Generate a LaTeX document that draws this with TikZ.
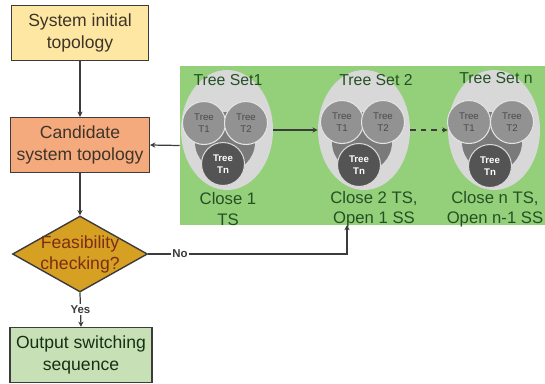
\documentclass[tikz,border=0pt]{standalone}
\usepackage{fontspec}
\setmainfont{Liberation Sans}
\usetikzlibrary{shapes.geometric,arrows.meta}
\definecolor{startyellow}{RGB}{253,231,163}
\definecolor{candsalmon}{RGB}{245,170,126}
\definecolor{checkgold}{RGB}{214,160,34}
\definecolor{checktext}{RGB}{125,45,20}
\definecolor{outgreen}{RGB}{200,224,182}
\definecolor{panelgreen}{RGB}{148,208,122}
\definecolor{setgray}{RGB}{216,216,216}
\definecolor{treegray}{RGB}{146,146,146}
\definecolor{blobgray}{RGB}{122,122,122}
\definecolor{tngray}{RGB}{84,84,84}
\definecolor{settext}{RGB}{36,80,36}
\definecolor{boxtext}{RGB}{62,52,40}
\definecolor{edgegray}{RGB}{60,60,60}

\begin{document}
\begin{tikzpicture}[x=0.02cm,y=-0.02cm,
  flowbox/.style={rectangle, draw=edgegray, line width=0.8pt, minimum width=2.74cm, minimum height=1.1cm, align=center, text=boxtext, font=\fontsize{10}{12.5}\selectfont},
  conn/.style={draw=edgegray, line width=0.7pt, -{Stealth[length=3pt,width=3pt]}},
  treeset/.style={ellipse, fill=setgray, minimum width=1.84cm, minimum height=2.4cm, inner sep=0pt},
  treecirc/.style={circle, fill=treegray, draw=setgray!70!white, line width=0.6pt, minimum size=0.86cm, inner sep=0pt, align=center, text=blobgray!60!black, font=\fontsize{5.5}{6.5}\selectfont},
  tncirc/.style={treecirc, fill=tngray, draw=setgray, text=white, font=\bfseries\fontsize{5.5}{6.5}\selectfont},
  blob/.style={circle, fill=blobgray, minimum size=1.2cm, inner sep=0pt},
  settitle/.style={text=settext, font=\fontsize{9}{11}\selectfont},
  setnote/.style={text=settext, align=center, font=\fontsize{9.5}{11.5}\selectfont},
  edgelabel/.style={fill=white, inner sep=1pt, text=edgegray, font=\bfseries\fontsize{6.5}{7.5}\selectfont}]
\useasboundingbox (0,0) rectangle (545,383);

% Flow chart column
\node[flowbox, fill=startyellow] (init) at (80,33) {System initial\\topology};
\node[flowbox, fill=candsalmon] (cand) at (80,145) {Candidate\\system topology};
\node[diamond, fill=checkgold, draw=edgegray, line width=0.8pt, minimum width=2.7cm, minimum height=1.52cm, inner sep=0pt] (check) at (80,254) {};
\node[text=checktext, align=center, font=\fontsize{10}{12}\selectfont] at (check) {Feasibility\\checking?};
\node[flowbox, fill=outgreen, text=settext!60!black] (out) at (81,355) {Output switching\\sequence};

% Green panel with the tree sets
\node[rectangle, fill=panelgreen, minimum width=7.3cm, minimum height=3.18cm, inner sep=0pt] (panel) at (362.5,145.5) {};

\foreach \name/\cx in {one/227, two/364, en/494} {
  \node[treeset] (\name) at (\cx,130) {};
  \node[blob] at (\cx-2,142) {};
}

% Tree set 1
\node[treecirc] (onea) at (204,123) {Tree\\T1};
\node[treecirc] (oneb) at (246,123) {Tree\\T2};
\node[tncirc] (onen) at (223,164) {Tree\\Tn};
% Tree set 2
\node[treecirc] (twoa) at (342,122) {Tree\\T1};
\node[treecirc] (twob) at (383,122) {Tree\\T2};
\node[tncirc] (twon) at (359,165) {Tree\\Tn};
% Tree set n
\node[treecirc] (ena) at (469,122) {Tree\\T1};
\node[treecirc] (enb) at (512,122) {Tree\\T2};
\node[tncirc] (enn) at (490,166) {Tree\\Tn};

\node[settitle] (onet) at (228,80) {Tree Set1};
\node[settitle] (twot) at (376,80) {Tree Set 2};
\node[settitle] (ent) at (496,78) {Tree Set n};
\node[setnote] (onec) at (228,209) {Close 1\\TS};
\node[setnote] (twoc) at (374,209) {Close 2 TS,\\Open 1 SS};
\node[setnote] (enc) at (495,209) {Close n TS,\\Open n-1 SS};

% Connections
\draw[conn] (init) -- (cand);
\draw[conn] (cand) -- (check);
\draw[conn] (panel.west) -- (cand.east);
\draw[conn] (one.east) -- (two.west);
\draw[conn, dashed] (two.east) -- (en.west);
\draw[conn] (check.south) -- node[edgelabel] {Yes} (out.north);
\coordinate (notop) at (347,225);
\draw[conn] (check.east) -- node[edgelabel, pos=0.16] {No} (check.east -| notop) -- (notop);
\end{tikzpicture}
\end{document}
